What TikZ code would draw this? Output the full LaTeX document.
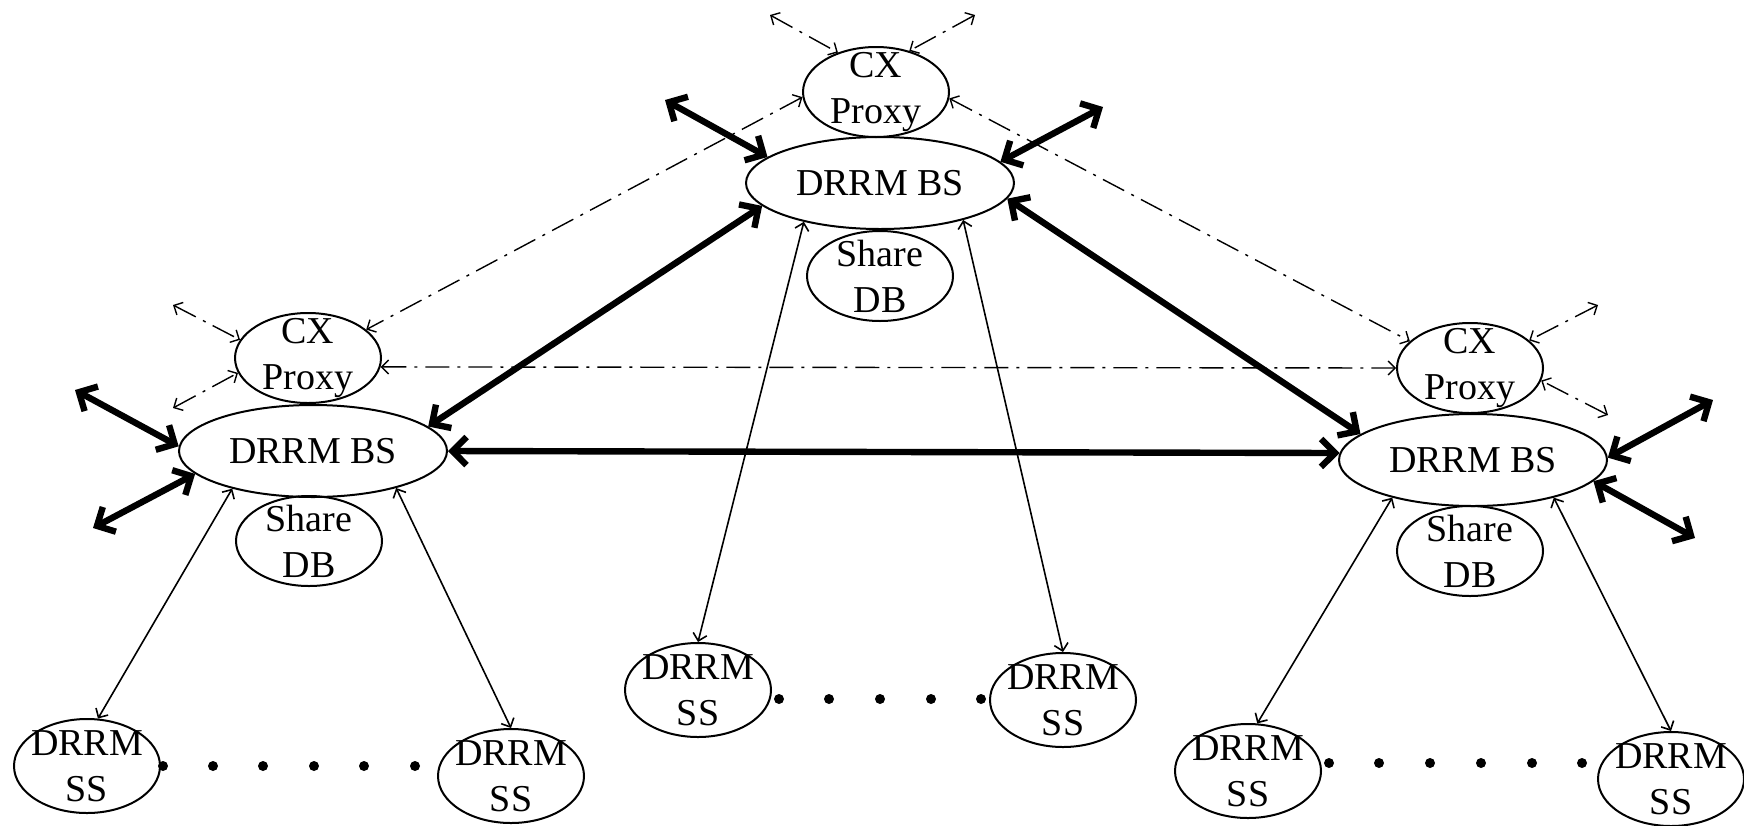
\documentclass[tikz,border=0pt]{standalone}
\usepackage{fontspec}
\setmainfont{Liberation Serif}
\usetikzlibrary{arrows.meta,shapes.geometric}

\begin{document}
\begin{tikzpicture}[x=0.5pt, y=-0.5pt, >={Straight Barb[length=3.5pt,width=7pt]},
  every node/.style={font=\fontsize{19}{23}\selectfont, align=center}]
\tikzset{
  cell/.style={draw, ellipse, inner sep=0pt, line width=1pt},
  bsnode/.style={cell, minimum width=134pt, minimum height=46pt},
  cxnode/.style={cell, minimum width=73pt, minimum height=45pt},
  ssnode/.style={cell, minimum width=73pt, minimum height=47pt},
  biglink/.style={<->, >={Straight Barb[length=7pt,width=14pt]}, line width=3.2pt},
  thinlink/.style={<->, line width=0.8pt},
  cxlink/.style={<->, line width=0.7pt, dash pattern=on 12pt off 4pt on 1.5pt off 4pt}
}
\useasboundingbox (0,0) rectangle (1744,825);
\node[cxnode, label=center:{CX\\Proxy}] (CT) at (876,92) {};
\node[bsnode, label=center:{DRRM BS}] (BT) at (880,183) {};
\node[cxnode, label=center:{Share\\DB}] (DT) at (880,276) {};
\node[cxnode, label=center:{CX\\Proxy}] (CL) at (308,358) {};
\node[bsnode, label=center:{DRRM BS}] (BL) at (313,451) {};
\node[cxnode, label=center:{Share\\DB}] (DL) at (309,541) {};
\node[cxnode, label=center:{CX\\Proxy}] (CR) at (1470,368) {};
\node[bsnode, label=center:{DRRM BS}] (BR) at (1473,460) {};
\node[cxnode, label=center:{Share\\DB}] (DR) at (1470,551) {};
\node[ssnode, label=center:{DRRM\\SS}] (SL1) at (87,766) {};
\node[ssnode, label=center:{DRRM\\SS}] (SL2) at (511,776) {};
\node[ssnode, label=center:{DRRM\\SS}] (SM1) at (698,690) {};
\node[ssnode, label=center:{DRRM\\SS}] (SM2) at (1063,700) {};
\node[ssnode, label=center:{DRRM\\SS}] (SR1) at (1248,771) {};
\node[ssnode, label=center:{DRRM\\SS}] (SR2) at (1671,779) {};
\coordinate (oL1) at (75,390);
\coordinate (oL2) at (93,528);
\coordinate (oT1) at (665,100);
\coordinate (oT2) at (1103,107);
\coordinate (oR1) at (1713,400);
\coordinate (oR2) at (1695,538);
\coordinate (fT1) at (770,15);
\coordinate (fT2) at (975,15);
\coordinate (fL1) at (173,305);
\coordinate (fL2) at (173,408);
\coordinate (fR1) at (1598,305);
\coordinate (fR2) at (1608,415);
\draw[biglink] (BT.191) -- (BL.12);
\draw[biglink] (BT.353) -- (BR.167);
\draw[biglink] (BL.east) -- (BR.177);
\draw[biglink] (oL1) -- (BL.178);
\draw[biglink] (oL2) -- (BL.191);
\draw[biglink] (oT1) -- (BT.167);
\draw[biglink] (oT2) -- (BT.10);
\draw[biglink] (oR1) -- (BR.1);
\draw[biglink] (oR2) -- (BR.350);
\draw[thinlink] (BL.205) -- (SL1.77);
\draw[thinlink] (BL.336) -- (SL2.north);
\draw[thinlink] (BT.207) -- (SM1.north);
\draw[thinlink] (BT.336) -- (SM2.north);
\draw[thinlink] (BR.205) -- (SR1.79);
\draw[thinlink] (BR.335) -- (SR2.north);
\draw[cxlink] (CT.184) -- (CL.26);
\draw[cxlink] (CT.355) -- (CR.156);
\draw[cxlink] (CL.-7) -- (CR.west);
\draw[cxlink] (fT1) -- (CT.134);
\draw[cxlink] (fT2) -- (CT.51);
\draw[cxlink] (fL1) -- (CL.165);
\draw[cxlink] (fL2) -- (CL.192);
\draw[cxlink] (fR1) -- (CR.25);
\draw[cxlink] (fR2) -- (CR.350);
\foreach \x in {163,213,263,314,364,415} \fill (\x,766) circle[radius=2.5pt];
\foreach \x in {779,829,880,931,981} \fill (\x,699) circle[radius=2.5pt];
\foreach \x in {1329,1379,1430,1481,1532,1582} \fill (\x,763) circle[radius=2.5pt];
\end{tikzpicture}
\end{document}
